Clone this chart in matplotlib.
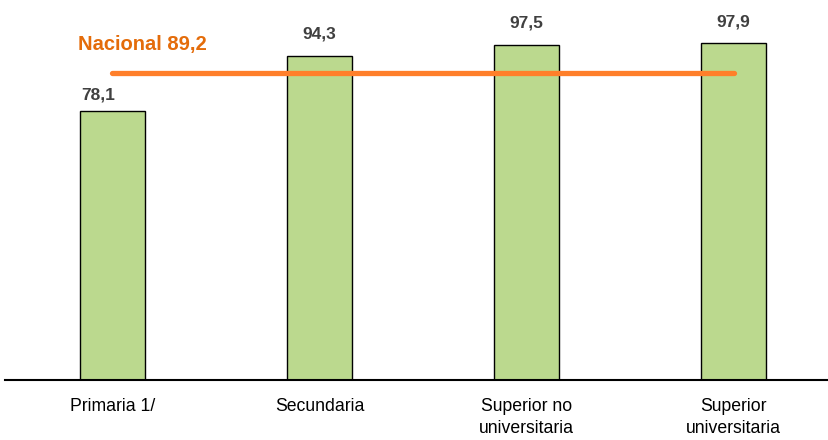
import matplotlib
matplotlib.use('Agg')
import matplotlib.pyplot as plt
from matplotlib import font_manager

categories = ['Primaria 1/', 'Secundaria', 'Superior no\nuniversitaria', 'Superior\nuniversitaria']
values = [78.1, 94.3, 97.5, 97.9]
value_labels = ['78,1', '94,3', '97,5', '97,9']
nacional = 89.2
nacional_label = 'Nacional 89,2'

plt.rcParams['font.family'] = ['Liberation Sans', 'DejaVu Sans']
names = {f.name for f in font_manager.fontManager.ttflist}
narrow = 'Liberation Sans Narrow' in names
num_font = ['Liberation Sans Narrow', 'DejaVu Sans'] if narrow else ['Liberation Sans', 'DejaVu Sans']
num_size = 15 if narrow else 12.5

fig = plt.figure(figsize=(8.29, 4.40), dpi=100)
ax = fig.add_axes([5 / 829, 60 / 440, 824 / 829, 344 / 440])

x = list(range(len(categories)))
ax.bar(x, values, width=0.314, color='#BBD98E', edgecolor='black', linewidth=1.0, zorder=2)
# the first label sits a bit to the left and closer to its bar
offsets = [(-10, 6.5), (0, 10), (0, 10), (0, 10)]
for xi, v, lab, off in zip(x, values, value_labels, offsets):
    ax.annotate(lab, (xi, v), xytext=off, textcoords='offset points',
                ha='center', va='bottom', fontsize=num_size, fontweight='bold',
                color='#404040', family=num_font)

ax.plot([x[0], x[-1]], [nacional, nacional], color='#FF7F2A', lw=3.8,
        solid_capstyle='round', zorder=3)
ax.text(-0.167, 97.4, nacional_label, ha='left', va='center', fontsize=14.5,
        fontweight='bold', color='#E46C0A')

ax.set_xlim(-0.519, 3.461)
ax.set_ylim(0, 100)
ax.set_xticks(x)
ax.set_xticklabels(categories, fontsize=12.7, linespacing=1.35)
ax.tick_params(axis='x', length=0, pad=13)
ax.set_yticks([])
for s in ['left', 'right', 'top']:
    ax.spines[s].set_visible(False)
ax.spines['bottom'].set_linewidth(1.5)

fig.savefig('out.png', dpi=100)
